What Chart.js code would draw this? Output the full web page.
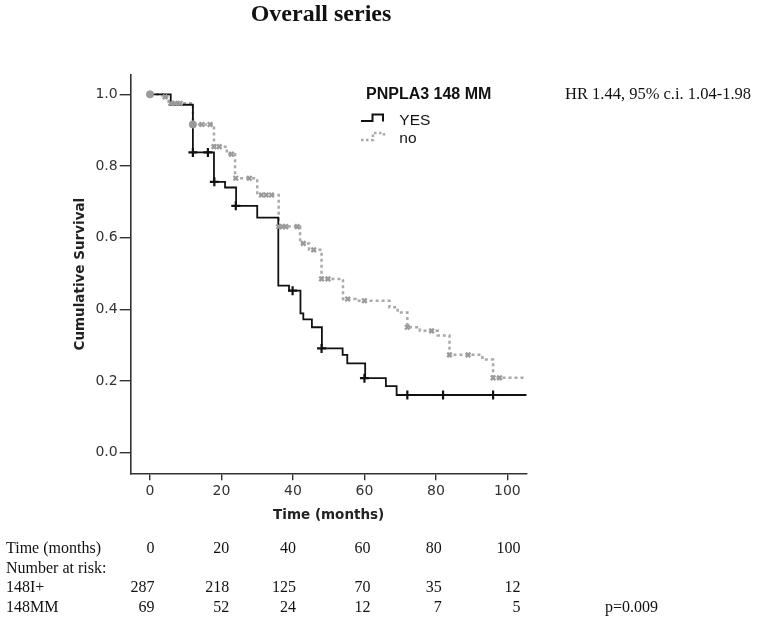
<!DOCTYPE html>
<html>
<head>
<meta charset="utf-8">
<script src="https://cdn.jsdelivr.net/npm/chart.js@4.4.1/dist/chart.umd.min.js"></script>
<style>
html,body{margin:0;padding:0;background:#fff;}
#wrap{position:relative;width:757px;height:621px;overflow:hidden;background:#fff;}
#c{position:absolute;left:0;top:0;width:757px;height:621px;}
.t{position:absolute;white-space:nowrap;font-family:"Liberation Serif","Times New Roman",serif;font-size:16px;line-height:16px;color:#111;}
.r{text-align:right;}
#title{font-weight:bold;font-size:24px;line-height:24px;text-align:center;width:200px;left:221px;top:1px;}
#hr{font-size:16.5px;line-height:16.5px;left:565px;top:85.5px;}
</style>
</head>
<body>
<div id="wrap">
<canvas id="c" width="757" height="621"></canvas>
<div class="t" id="title"></div>
<div class="t" id="hr"></div>
</div>
<script>
// ---------- data ----------
const chartTitle = 'Overall series';
const hrText = 'HR 1.44, 95% c.i. 1.04-1.98';
const pText = 'p=0.009';
const legendTitle = 'PNPLA3 148 MM';
const seriesNames = ['YES', 'no'];
const xAxisTitle = 'Time (months)';
const yAxisTitle = 'Cumulative Survival';

// Kaplan-Meier step points (time, survival after step) - YES group
const yesT = [0, 5.8, 12, 17.9, 21, 24.1, 30, 35.9, 38.9, 42.1, 42.9, 45.3, 48.1, 53.9, 55.2, 60.2, 66, 69, 105.4];
const yesS = [1.0, 0.971, 0.838, 0.756, 0.740, 0.689, 0.656, 0.466, 0.452, 0.389, 0.372, 0.350, 0.291, 0.273, 0.249, 0.208, 0.186, 0.161, 0.161];
// censored marks - YES
const yesCensT = [12, 16.2, 18, 24, 39.9, 48, 60, 72, 82, 96];
const yesCensS = [0.838, 0.838, 0.756, 0.689, 0.452, 0.291, 0.208, 0.161, 0.161, 0.161];

// Kaplan-Meier step points - no group
const noT = [0, 3.5, 5.2, 12, 17.9, 21.5, 23.8, 30, 36, 42, 44.5, 48, 54, 57.5, 67, 69.3, 72, 75.5, 80.5, 83.8, 93, 96, 105.4];
const noS = [1.0, 0.993, 0.975, 0.916, 0.854, 0.833, 0.766, 0.719, 0.631, 0.584, 0.566, 0.485, 0.429, 0.424, 0.406, 0.391, 0.350, 0.340, 0.327, 0.273, 0.260, 0.209, 0.209];
// censored marks - no
const noCensT = [4.2, 5.8, 7, 8.4, 14.5, 16.8, 17.9, 19.4, 22.8, 24, 27.8, 31.2, 32.5, 34, 36, 37, 38, 41.2, 42.9, 45.8, 48, 49.8, 55.3, 60, 72, 78.8, 83.8, 89, 96, 97.8];
const noCensS = [0.993, 0.975, 0.975, 0.975, 0.916, 0.916, 0.854, 0.854, 0.833, 0.766, 0.766, 0.719, 0.719, 0.719, 0.631, 0.631, 0.631, 0.631, 0.584, 0.566, 0.485, 0.485, 0.429, 0.424, 0.350, 0.340, 0.273, 0.273, 0.209, 0.209];
// clustered censoring (drawn as blobs)
const noCensDenseT = [0, 12];
const noCensDenseS = [1.0, 0.916];

const xTicks = [0, 20, 40, 60, 80, 100];
const yTicks = [0.0, 0.2, 0.4, 0.6, 0.8, 1.0];

// number at risk table
const riskTimes = [0, 20, 40, 60, 80, 100];
const riskI = [287, 218, 125, 70, 35, 12];
const riskMM = [69, 52, 24, 12, 7, 5];
const riskRowLabels = ['Time (months)', 'Number at risk:', '148I+', '148MM'];

// ---------- html text ----------
document.getElementById('title').textContent = chartTitle;
document.getElementById('hr').textContent = hrText;
const wrap = document.getElementById('wrap');
function addText(txt, left, top, right, extraClass){
  const d = document.createElement('div');
  d.className = 't' + (extraClass ? ' ' + extraClass : '');
  d.textContent = txt;
  if (right !== null) { d.style.width = '80px'; d.style.left = (right - 80) + 'px'; d.classList.add('r'); }
  else d.style.left = left + 'px';
  d.style.top = top + 'px';
  wrap.appendChild(d);
}
const rowTops = [539.8, 559.6, 579.2, 598.6];
const colRight = [154.5, 229.3, 296, 370.6, 441.7, 520.5];
riskRowLabels.forEach((l, i) => addText(l, 6, rowTops[i], null));
riskTimes.forEach((v, i) => addText(String(v), 0, rowTops[0], colRight[i]));
riskI.forEach((v, i) => addText(String(v), 0, rowTops[2], colRight[i]));
riskMM.forEach((v, i) => addText(String(v), 0, rowTops[3], colRight[i]));
addText(pText, 605, rowTops[3], null);

// ---------- chart ----------
const zip = (a, b) => a.map((v, i) => ({x: v, y: b[i]}));

const legendPlugin = {
  id: 'kmLegend',
  afterDraw(chart) {
    const ctx = chart.ctx;
    ctx.save();
    ctx.fillStyle = '#111';
    ctx.textBaseline = 'alphabetic';
    ctx.font = 'bold 16px "Liberation Sans", Arial, sans-serif';
    ctx.fillText(legendTitle, 366, 98.7);
    ctx.font = '15.5px "Liberation Sans", Arial, sans-serif';
    ctx.fillText(seriesNames[0], 399.3, 124.8);
    ctx.fillText(seriesNames[1], 399.3, 143.2);
    // YES symbol
    ctx.strokeStyle = '#111';
    ctx.lineWidth = 2;
    ctx.beginPath();
    ctx.moveTo(361, 121); ctx.lineTo(372.5, 121); ctx.lineTo(372.5, 114.5);
    ctx.lineTo(383, 114.5); ctx.lineTo(383, 121.5);
    ctx.stroke();
    // no symbol
    ctx.strokeStyle = '#aaaaaa';
    ctx.lineWidth = 2.5;
    ctx.setLineDash([2.5, 2.5]);
    ctx.beginPath();
    ctx.moveTo(361, 140); ctx.lineTo(373, 140); ctx.lineTo(373, 133);
    ctx.lineTo(384, 133); ctx.lineTo(384, 138);
    ctx.stroke();
    ctx.restore();
  }
};

new Chart(document.getElementById('c'), {
  type: 'line',
  data: {
    datasets: [
      { label: seriesNames[1] + ' censored', data: zip(noCensT, noCensS), showLine: false,
        pointStyle: 'crossRot', pointRadius: 3.2, borderColor: '#9a9a9a', borderWidth: 2.3,
        backgroundColor: '#9a9a9a', order: 0 },
      { label: seriesNames[1] + ' censored (clustered)', data: zip(noCensDenseT, noCensDenseS), showLine: false,
        pointStyle: 'circle', pointRadius: 3.6, borderColor: '#9a9a9a', borderWidth: 1,
        backgroundColor: '#9a9a9a', order: 0 },
      { label: seriesNames[0] + ' censored', data: zip(yesCensT, yesCensS), showLine: false,
        pointStyle: 'cross', pointRadius: 4.5, borderColor: '#111', borderWidth: 2.2,
        backgroundColor: '#111', order: 0 },
      { label: seriesNames[0], data: zip(yesT, yesS), stepped: 'before', borderColor: '#111',
        borderWidth: 1.8, pointRadius: 0, fill: false, order: 1 },
      { label: seriesNames[1], data: zip(noT, noS), stepped: 'before', borderColor: '#a9a9a9',
        borderWidth: 2.5, borderDash: [3, 3], pointRadius: 0, fill: false, order: 2 }
    ]
  },
  options: {
    responsive: false,
    animation: false,
    devicePixelRatio: 1,
    layout: { padding: { left: 72, right: 230.3, top: 75, bottom: 97.2 } },
    plugins: { legend: { display: false }, tooltip: { enabled: false }, title: { display: false } },
    elements: { line: { tension: 0 } },
    scales: {
      x: {
        type: 'linear', min: -5.4, max: 105.4,
        afterBuildTicks: s => { s.ticks = xTicks.map(v => ({ value: v })); },
        afterFit: s => { s.height = 50.5; },
        grid: { display: true, drawOnChartArea: false, drawTicks: true, tickLength: 7, color: '#333', lineWidth: 1.4 },
        border: { display: true, color: '#333', width: 1.6 },
        ticks: { color: '#333', font: { family: 'DejaVu Sans', size: 14 }, padding: 3, maxRotation: 0, autoSkip: false },
        title: { display: true, text: xAxisTitle, color: '#222', font: { family: 'DejaVu Sans', size: 13.5, weight: 'bold' }, padding: 0 }
      },
      y: {
        type: 'linear', min: -0.0575, max: 1.054,
        afterBuildTicks: s => { s.ticks = yTicks.map(v => ({ value: v })); },
        afterFit: s => { s.width = 58.7; },
        grid: { display: true, drawOnChartArea: false, drawTicks: true, tickLength: 11, color: '#333', lineWidth: 1.4 },
        border: { display: true, color: '#333', width: 1.6 },
        ticks: { color: '#333', font: { family: 'DejaVu Sans', size: 14 }, padding: 2, autoSkip: false,
                 callback: v => Number(v).toFixed(1) },
        title: { display: true, text: yAxisTitle, color: '#222', font: { family: 'DejaVu Sans', size: 13.5, weight: 'bold' }, padding: 0 }
      }
    }
  },
  plugins: [legendPlugin]
});
</script>
</body>
</html>
